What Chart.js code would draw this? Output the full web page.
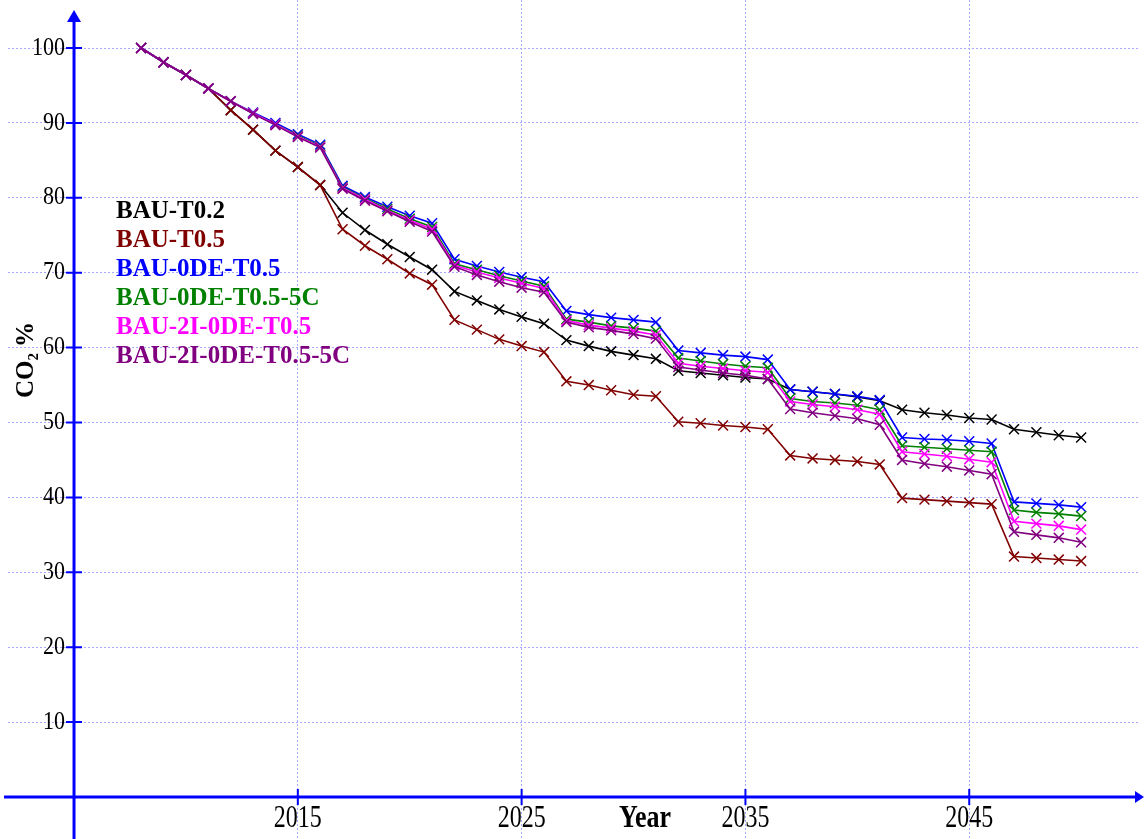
<!DOCTYPE html>
<html>
<head>
<meta charset="utf-8">
<script src="https://cdn.jsdelivr.net/npm/chart.js@4"></script>
<style>
  html, body { margin: 0; padding: 0; background: #fff; }
  #wrap { width: 1144px; height: 839px; }
</style>
</head>
<body>
<div id="wrap"><canvas id="chart" width="1144" height="839"></canvas></div>
<script>
// years on the x axis
const years = [];
for (let y = 2008; y <= 2050; y++) years.push(y);

const xTicks = [2015, 2025, 2035, 2045];
const yTicks = [10, 20, 30, 40, 50, 60, 70, 80, 90, 100];

// CO2 % per scenario
const bauT02 = [100, 98.1, 96.4, 94.6, 91.7, 89.1, 86.3, 84.1, 81.7, 78.0, 75.7, 73.8, 72.1, 70.4,
  67.5, 66.3, 65.1, 64.1, 63.2, 61.0, 60.2, 59.5, 59.0, 58.5, 56.9, 56.6, 56.3, 56.0, 55.8,
  54.4, 54.1, 53.8, 53.4, 52.9, 51.7, 51.3, 51.0, 50.6, 50.4, 49.1, 48.7, 48.3, 48.0];
const bauT05 = [100, 98.1, 96.4, 94.6, 91.7, 89.1, 86.3, 84.1, 81.7, 75.8, 73.6, 71.8, 69.9, 68.4,
  63.7, 62.4, 61.1, 60.2, 59.4, 55.5, 55.0, 54.3, 53.7, 53.5, 50.1, 49.9, 49.6, 49.4, 49.1,
  45.6, 45.2, 45.0, 44.8, 44.4, 39.9, 39.7, 39.5, 39.3, 39.1, 32.1, 31.9, 31.7, 31.5];
const bau0de = [100, 98.1, 96.4, 94.6, 92.9, 91.4, 90.0, 88.5, 87.1, 81.6, 80.1, 78.8, 77.6, 76.6,
  71.8, 70.9, 70.1, 69.4, 68.8, 64.9, 64.4, 64.0, 63.7, 63.4, 59.6, 59.3, 59.0, 58.8, 58.4,
  54.4, 54.1, 53.8, 53.5, 53.0, 48.0, 47.8, 47.7, 47.5, 47.2, 39.4, 39.2, 39.0, 38.7];
const bau0de5c = [100, 98.1, 96.4, 94.6, 92.9, 91.3, 89.8, 88.3, 86.9, 81.4, 79.9, 78.5, 77.2, 76.1,
  71.2, 70.4, 69.6, 68.9, 68.2, 63.8, 63.4, 62.9, 62.6, 62.2, 58.6, 58.2, 57.8, 57.5, 57.3,
  53.2, 52.8, 52.6, 52.3, 51.7, 46.9, 46.7, 46.5, 46.3, 46.1, 38.3, 38.0, 37.8, 37.5];
const bau2i0de = [100, 98.1, 96.4, 94.6, 92.9, 91.3, 89.8, 88.2, 86.8, 81.3, 79.8, 78.3, 77.0, 75.8,
  71.0, 70.1, 69.3, 68.6, 67.9, 63.6, 63.0, 62.6, 62.2, 61.7, 57.9, 57.5, 57.2, 56.9, 56.7,
  52.8, 52.4, 52.1, 51.7, 51.1, 46.1, 45.8, 45.5, 45.1, 44.7, 36.8, 36.5, 36.2, 35.7];
const bau2i0de5c = [100, 98.1, 96.4, 94.6, 92.9, 91.2, 89.7, 88.1, 86.7, 81.2, 79.6, 78.2, 76.8, 75.5,
  70.8, 69.7, 68.8, 68.0, 67.4, 63.4, 62.7, 62.3, 61.8, 61.2, 57.4, 57.0, 56.6, 56.3, 55.8,
  51.8, 51.3, 50.9, 50.5, 49.7, 45.0, 44.5, 44.1, 43.6, 43.1, 35.4, 35.0, 34.6, 34.0];

const names = ['BAU-T0.2', 'BAU-T0.5', 'BAU-0DE-T0.5', 'BAU-0DE-T0.5-5C', 'BAU-2I-0DE-T0.5', 'BAU-2I-0DE-T0.5-5C'];
const colors = ['#000000', '#800000', '#0000ff', '#008000', '#ff00ff', '#800080'];
const series = [bauT02, bauT05, bau0de, bau0de5c, bau2i0de, bau2i0de5c];

const axisBlue = '#0000ff';
const gridColor = '#a8a8ff';
const serif = '"Liberation Serif", "DejaVu Serif", serif';

// axes with arrows, tick marks, labels and the text legend
const decorations = {
  id: 'decorations',
  beforeDatasetsDraw(chart) {
    const ctx = chart.ctx;
    const xs = chart.scales.x, ys = chart.scales.y;
    const x0 = xs.getPixelForValue(2005);
    const y0 = ys.getPixelForValue(0);
    ctx.save();
    ctx.strokeStyle = axisBlue;
    ctx.fillStyle = axisBlue;
    ctx.lineWidth = 3;
    ctx.beginPath();
    ctx.moveTo(x0, chart.height);
    ctx.lineTo(x0, 20);
    ctx.moveTo(4, y0);
    ctx.lineTo(chart.width - 8, y0);
    ctx.stroke();
    // arrow heads
    ctx.beginPath();
    ctx.moveTo(x0, 10);
    ctx.lineTo(x0 - 7, 22);
    ctx.lineTo(x0 + 7, 22);
    ctx.closePath();
    ctx.fill();
    ctx.beginPath();
    ctx.moveTo(chart.width, y0);
    ctx.lineTo(chart.width - 9, y0 - 6);
    ctx.lineTo(chart.width - 9, y0 + 6);
    ctx.closePath();
    ctx.fill();
    // tick marks
    ctx.lineWidth = 2;
    ctx.beginPath();
    yTicks.forEach(v => {
      const py = ys.getPixelForValue(v);
      ctx.moveTo(x0 - 8, py);
      ctx.lineTo(x0 + 8, py);
    });
    xTicks.forEach(v => {
      const px = xs.getPixelForValue(v);
      ctx.moveTo(px, y0 - 8);
      ctx.lineTo(px, y0 + 8);
    });
    ctx.stroke();
    ctx.restore();
  },
  afterDraw(chart) {
    const ctx = chart.ctx;
    const xs = chart.scales.x, ys = chart.scales.y;
    const x0 = xs.getPixelForValue(2005);
    const y0 = ys.getPixelForValue(0);
    ctx.save();
    ctx.fillStyle = '#000';
    ctx.textBaseline = 'middle';
    ctx.font = '22px ' + serif;
    // y tick labels
    ctx.textAlign = 'right';
    yTicks.forEach(v => {
      const py = ys.getPixelForValue(v);
      ctx.save();
      ctx.translate(x0 - 9, py);
      ctx.scale(1, 1.15);
      ctx.fillText(String(v), 0, 0);
      ctx.restore();
    });
    // x tick labels (tall glyphs, like the original)
    ctx.textAlign = 'center';
    ctx.font = '24px ' + serif;
    xTicks.forEach(v => {
      const px = xs.getPixelForValue(v);
      ctx.save();
      ctx.translate(px, y0 + 22);
      ctx.scale(1, 1.3);
      ctx.fillText(String(v), 0, 0);
      ctx.restore();
    });
    // axis titles
    ctx.font = 'bold 26px ' + serif;
    ctx.save();
    ctx.translate(645, y0 + 22);
    ctx.scale(1, 1.2);
    ctx.fillText('Year', 0, 0);
    ctx.restore();
    ctx.save();
    ctx.translate(27, 360);
    ctx.rotate(-Math.PI / 2);
    ctx.font = 'bold 25px ' + serif;
    ctx.fillText('CO₂ %', 0, 0);
    ctx.restore();
    // legend as coloured text
    ctx.textAlign = 'left';
    ctx.font = 'bold 25px ' + serif;
    names.forEach((n, i) => {
      ctx.fillStyle = colors[i];
      ctx.fillText(n, 116, 212 + i * 29);
    });
    ctx.restore();
  }
};

const datasets = series.map((vals, i) => ({
  label: names[i],
  data: vals.map((v, j) => ({ x: years[j], y: v })),
  borderColor: colors[i],
  backgroundColor: colors[i],
  borderWidth: 1.6,
  pointStyle: 'crossRot',
  pointRadius: 7,
  pointBorderWidth: 1.5,
  tension: 0,
  order: series.length - i
}));

new Chart(document.getElementById('chart'), {
  type: 'line',
  data: { datasets },
  options: {
    responsive: false,
    animation: false,
    events: [],
    layout: { autoPadding: false, padding: { left: 8, right: 4, top: 0, bottom: 0 } },
    plugins: { legend: { display: false }, tooltip: { enabled: false } },
    scales: {
      x: {
        type: 'linear',
        min: 2002.05,
        max: 2052.63,
        afterBuildTicks: s => { s.ticks = xTicks.map(v => ({ value: v })); },
        ticks: { display: false },
        border: { display: false, dash: [2, 2] },
        grid: { color: gridColor, lineWidth: 1, drawTicks: false }
      },
      y: {
        type: 'linear',
        min: -5.61,
        max: 106.41,
        afterBuildTicks: s => { s.ticks = yTicks.map(v => ({ value: v })); },
        ticks: { display: false },
        border: { display: false, dash: [2, 2] },
        grid: { color: gridColor, lineWidth: 1, drawTicks: false }
      }
    }
  },
  plugins: [decorations]
});
</script>
</body>
</html>
